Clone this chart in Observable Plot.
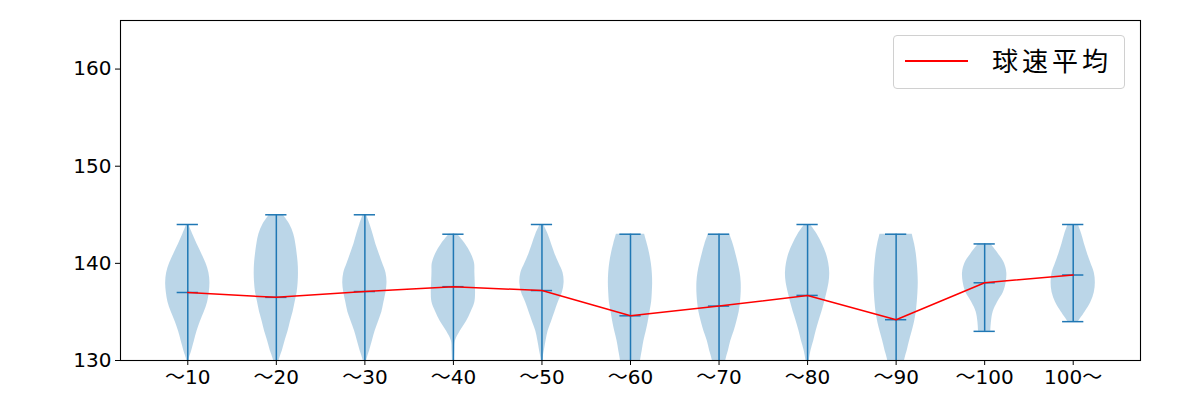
<!DOCTYPE html>
<html>
<head>
<meta charset="utf-8">
<script src="https://cdn.jsdelivr.net/npm/d3@7"></script>
<script src="https://cdn.jsdelivr.net/npm/@observablehq/plot@0.6"></script>
<style>
  html, body { margin: 0; padding: 0; background: white; }
  #wrap { position: relative; width: 1200px; height: 400px; font-family: "DejaVu Sans", "Noto Sans CJK JP", sans-serif; }
  #legend { position: absolute; left: 893px; top: 35px; width: 232px; height: 54px; border: 1px solid #d0d0d0; border-radius: 4px; background: rgba(255,255,255,0.8); box-sizing: border-box; }
  #legend .ln { position: absolute; left: 11px; top: 24px; width: 63px; height: 1.5px; background: #ff0000; }
  #legend .tx { position: absolute; left: 98px; top: 6px; font-size: 26px; line-height: 36px; letter-spacing: 4px; color: black; font-family: "Noto Sans CJK JP", sans-serif; }
</style>
</head>
<body>
<div id="wrap"></div>
<script>
const categories = ["〜10","〜20","〜30","〜40","〜50","〜60","〜70","〜80","〜90","〜100","100〜"];
const means = [137.0, 136.5, 137.1, 137.6, 137.2, 134.6, 135.6, 136.7, 134.2, 138.0, 138.8];
const maxs  = [144, 145, 145, 143, 144, 143, 143, 144, 143, 142, 144];
const mins  = [127, 127, 127, 127, 127, 127, 127, 127, 127, 133, 134];
const yTicks = [130, 140, 150, 160];
const legendLabel = "球速平均";
// relative density profiles, one value per km/h starting at densityFrom
const densityFrom = [129, 129, 129, 129, 129, 129, 129, 129, 129, 133, 134];
const densities = [
  [1, 3, 12, 20, 28, 38, 50, 60, 65, 67, 64, 55, 42, 28, 15, 3],
  [2, 8, 18, 26, 35, 42, 50, 56, 62, 65, 66, 65, 62, 58, 52, 40, 20],
  [1, 5, 14, 22, 30, 40, 50, 56, 62, 65, 62, 52, 42, 32, 24, 15, 5],
  [2, 3, 4, 6, 20, 38, 52, 63, 65, 64, 63, 62, 52, 35, 12],
  [1, 2, 7, 12, 18, 28, 38, 48, 60, 65, 62, 50, 38, 28, 18, 5],
  [28, 30, 35, 40, 47, 53, 58, 63, 65, 66, 65, 62, 57, 50, 42],
  [17, 20, 28, 35, 45, 53, 60, 64, 66, 66, 63, 57, 50, 42, 32],
  [3, 5, 10, 18, 25, 33, 42, 50, 57, 63, 65, 62, 55, 43, 28, 8],
  [22, 25, 33, 40, 48, 55, 60, 63, 65, 66, 65, 63, 60, 55, 48],
  [18, 20, 25, 38, 55, 63, 65, 58, 40, 18],
  [15, 35, 52, 62, 65, 62, 52, 42, 33, 25, 15]
];

const halfWidth = 0.25, capHalf = 0.12;
const summary = categories.map((c, i) => ({cat: c, pos: i + 1, mean: means[i], max: maxs[i], min: mins[i]}));
const violin = [];
densities.forEach((arr, i) => {
  const m = d3.max(arr);
  arr.forEach((d, j) => violin.push({cat: categories[i], pos: i + 1, v: densityFrom[i] + j, w: d / m}));
});

const blue = "#1f77b4";
const chart = Plot.plot({
  width: 1200, height: 400,
  marginLeft: 120, marginRight: 60, marginTop: 20, marginBottom: 40,
  style: {fontFamily: "'DejaVu Sans', 'Noto Sans CJK JP', sans-serif", fontSize: "20px", color: "black", background: "white"},
  x: {type: "linear", domain: [0.24, 11.76]},
  y: {domain: [130, 165]},
  marks: [
    Plot.areaX(violin, {y: "v", x1: d => d.pos - d.w * halfWidth, x2: d => d.pos + d.w * halfWidth, z: "cat", fill: blue, fillOpacity: 0.3, curve: "catmull-rom", clip: true}),
    Plot.ruleX(summary, {x: "pos", y1: "min", y2: "max", stroke: blue, strokeWidth: 1.5, clip: true}),
    Plot.ruleY(summary, {y: "max", x1: d => d.pos - capHalf, x2: d => d.pos + capHalf, stroke: blue, strokeWidth: 1.5, clip: true}),
    Plot.ruleY(summary, {y: "min", x1: d => d.pos - capHalf, x2: d => d.pos + capHalf, stroke: blue, strokeWidth: 1.5, clip: true}),
    Plot.ruleY(summary, {y: "mean", x1: d => d.pos - capHalf, x2: d => d.pos + capHalf, stroke: blue, strokeWidth: 1.5, clip: true}),
    Plot.line(summary, {x: "pos", y: "mean", stroke: "red", strokeWidth: 1.5}),
    Plot.axisY({ticks: yTicks, tickSize: 5, tickPadding: 4, label: null, fontSize: 20}),
    Plot.axisX({ticks: d3.range(1, 12), tickFormat: i => categories[i - 1], tickSize: 5, tickPadding: 4, label: null, fontSize: 20}),
    Plot.frame({stroke: "black", strokeWidth: 1.1})
  ]
});
const wrap = document.getElementById("wrap");
wrap.appendChild(chart);
const lg = document.createElement("div");
lg.id = "legend";
lg.innerHTML = `<div class="ln"></div><div class="tx">${legendLabel}</div>`;
wrap.appendChild(lg);
</script>
</body>
</html>
